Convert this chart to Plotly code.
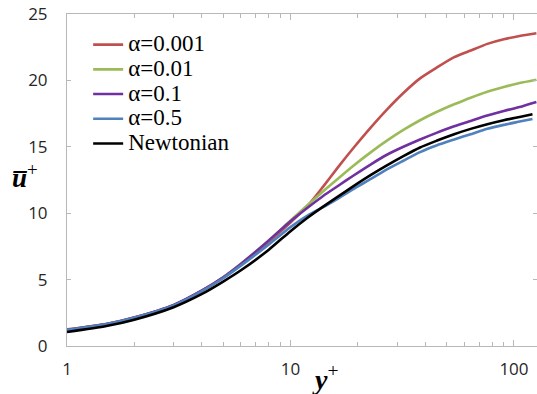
import plotly.graph_objects as go

# y+ sampling (log axis)
yplus = [1, 1.5, 2, 3, 4, 5, 6, 8, 10, 12, 14, 16.3, 19, 23, 27, 32, 38, 45, 54, 64, 76, 90, 106, 126]
yplus_short = [1, 1.5, 2, 3, 4, 5, 6, 8, 10, 12, 14, 16.3, 19, 23, 27, 32, 38, 45, 54, 64, 76, 90, 106, 121]

u_a0001 = [1.25, 1.66, 2.14, 3.08, 4.15, 5.15, 6.15, 7.85, 9.3, 10.6, 12.0, 13.45, 14.85, 16.5, 17.8, 19.05, 20.15, 20.95, 21.75, 22.25, 22.75, 23.1, 23.35, 23.55]
u_a001 = [1.22, 1.65, 2.14, 3.08, 4.15, 5.18, 6.2, 7.95, 9.45, 10.65, 11.65, 12.6, 13.54, 14.62, 15.46, 16.27, 17.0, 17.62, 18.2, 18.7, 19.15, 19.5, 19.8, 20.05]
u_a01 = [1.22, 1.65, 2.15, 3.1, 4.17, 5.18, 6.18, 7.95, 9.4, 10.45, 11.3, 12.05, 12.8, 13.7, 14.4, 15.0, 15.55, 16.05, 16.55, 16.95, 17.35, 17.7, 18.0, 18.38]
u_a05 = [1.2, 1.63, 2.12, 3.06, 4.12, 5.1, 6.05, 7.65, 8.95, 9.85, 10.45, 11.1, 11.8, 12.6, 13.3, 13.95, 14.6, 15.1, 15.55, 15.95, 16.35, 16.65, 16.9, 17.1]
u_newt = [1.05, 1.5, 1.98, 2.92, 3.9, 4.85, 5.7, 7.25, 8.65, 9.7, 10.5, 11.25, 12.0, 12.9, 13.6, 14.3, 14.95, 15.45, 15.95, 16.35, 16.7, 17.0, 17.25, 17.45]

names = ["α=0.001", "α=0.01", "α=0.1", "α=0.5", "Newtonian"]
colors = ["#C0504D", "#9BBB59", "#7030A0", "#4F81BD", "#000000"]
series = [(yplus, u_a0001), (yplus, u_a001), (yplus, u_a01), (yplus_short, u_a05), (yplus_short, u_newt)]

fig = go.Figure()
for (xs, ys), n, c in zip(series, names, colors):
    fig.add_trace(go.Scatter(x=xs, y=ys, mode="lines",
                             name='<span style="font-size:23px">' + n + '</span>',
                             line=dict(color=c, width=2.6, shape="spline", smoothing=0.6)))

axcol = "#b8b8b8"
tickfont = dict(family="Open Sans", size=17, color="#262626")
fig.update_layout(
    width=537, height=394,
    margin=dict(l=67, r=0, t=14, b=48),
    paper_bgcolor="white", plot_bgcolor="white",
    showlegend=True,
    legend=dict(x=0.045, y=0.96, xanchor="left", yanchor="top",
                font=dict(family="Liberation Serif", size=16.7, color="black"),
                bgcolor="rgba(0,0,0,0)", borderwidth=0, tracegroupgap=0),
    xaxis=dict(type="log", range=[0, 2.103], dtick=1, showgrid=False, zeroline=False,
               showline=True, linecolor=axcol, linewidth=1, mirror="ticks",
               ticks="inside", ticklen=6, tickcolor=axcol, tickfont=tickfont,
               ticklabelstandoff=8,
               minor=dict(ticks="inside", ticklen=4, tickcolor=axcol, dtick="D1", showgrid=False)),
    yaxis=dict(range=[0, 25], dtick=5, showgrid=False, zeroline=False,
               showline=True, linecolor=axcol, linewidth=1, mirror="ticks",
               ticks="inside", ticklen=4, tickcolor=axcol, tickfont=tickfont,
               ticklabelstandoff=15),
)

fig.add_annotation(x=-0.089, y=0.513, xref="paper", yref="paper", showarrow=False,
                   xanchor="center", yanchor="middle",
                   text="<b><i>u\u0305</i></b><sup>+</sup>",
                   font=dict(family="Liberation Serif", size=27, color="black"))
fig.add_annotation(x=0.55, y=-0.095, xref="paper", yref="paper", showarrow=False,
                   xanchor="center", yanchor="middle",
                   text="<b><i>y</i></b><sup>+</sup>",
                   font=dict(family="Liberation Serif", size=28, color="black"))

fig.write_html("out.html")
